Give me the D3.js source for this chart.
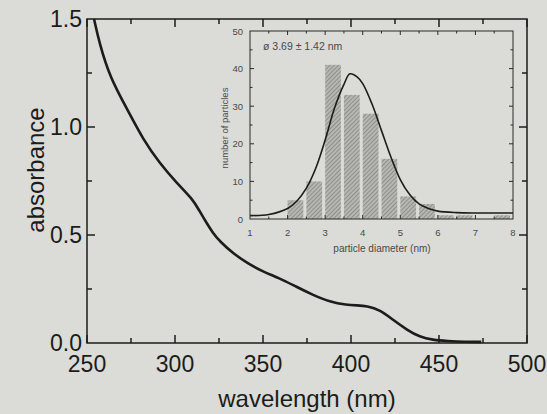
<!DOCTYPE html>
<html>
<head>
<meta charset="utf-8">
<script src="https://cdn.jsdelivr.net/npm/d3@7"></script>
<style>
  body { margin: 0; background: #dbdbd7; }
  svg { display: block; }
  text { font-family: "Liberation Sans", Arial, sans-serif; }
</style>
</head>
<body>
<svg width="547" height="414"></svg>
<script>
// absorption spectrum
var wavelength = [254, 257, 263, 273, 282, 291.5, 300.5, 310, 314, 318, 321.5, 325.5, 333, 341, 350, 359.5, 369, 378.5, 388, 397.5, 403.5, 409, 416.5, 424, 432, 439, 446.5, 454.5, 465, 474];
var absorbance = [1.50, 1.39, 1.23, 1.08, 0.94, 0.83, 0.745, 0.667, 0.61, 0.555, 0.51, 0.47, 0.415, 0.37, 0.33, 0.30, 0.26, 0.222, 0.19, 0.176, 0.174, 0.172, 0.153, 0.106, 0.06, 0.028, 0.014, 0.009, 0.005, 0.005];

// inset histogram (bin start in nm, count)
var binStart = [2, 2.5, 3, 3.5, 4, 4.5, 5, 5.5, 6, 6.5, 7, 7.5];
var binCount = [5, 10, 41, 33, 28, 16, 6, 4, 1, 1, 0, 1];

// fitted curve in the inset
var fitD = [1.0, 1.5, 2.0, 2.25, 2.5, 2.75, 3.0, 3.25, 3.5, 3.66, 3.85, 4.0, 4.25, 4.5, 4.75, 5.0, 5.25, 5.5, 5.75, 6.0, 6.5, 7.0, 7.5, 8.0];
var fitN = [0.9, 1.2, 2.8, 4.8, 8.2, 13.5, 21, 29.5, 35.8, 38.6, 37.8, 36, 30.5, 23.5, 16.5, 10.5, 6.5, 4.0, 2.8, 2.1, 1.7, 1.6, 1.6, 1.6];

var xTicks = [250, 300, 350, 400, 450, 500];
var yTicks = [0, 0.5, 1.0, 1.5];
var ixTicks = [1, 2, 3, 4, 5, 6, 7, 8];
var iyTicks = [0, 10, 20, 30, 40, 50];

var svg = d3.select("svg");
var ink = "#1c1c1c";

svg.append("rect").attr("width", 547).attr("height", 414).attr("fill", "#dbdbd7");

var defs = svg.append("defs");
var pat = defs.append("pattern")
    .attr("id", "hatch")
    .attr("patternUnits", "userSpaceOnUse")
    .attr("width", 3).attr("height", 3)
    .attr("patternTransform", "rotate(45)");
pat.append("rect").attr("width", 3).attr("height", 3).attr("fill", "#b6b6b2");
pat.append("line").attr("x1", 0).attr("y1", 0).attr("x2", 0).attr("y2", 3)
    .attr("stroke", "#747471").attr("stroke-width", 1.2);

// ---- main plot ----
var x = d3.scaleLinear().domain([250, 500]).range([87, 527]);
var y = d3.scaleLinear().domain([0, 1.5]).range([343, 19]);

function ticksInward(g, scale, vals, orient, len) {
    vals.forEach(function (v) {
        var p = scale(v);
        if (orient == "bottom") g.append("line").attr("x1", p).attr("x2", p).attr("y1", y(0)).attr("y2", y(0) - len);
        if (orient == "top") g.append("line").attr("x1", p).attr("x2", p).attr("y1", y(1.5)).attr("y2", y(1.5) + len);
        if (orient == "left") g.append("line").attr("y1", p).attr("y2", p).attr("x1", x(250)).attr("x2", x(250) + len);
        if (orient == "right") g.append("line").attr("y1", p).attr("y2", p).attr("x1", x(500)).attr("x2", x(500) - len);
    });
}

var main = svg.append("g").attr("stroke", ink).attr("stroke-width", 1.5);
main.append("rect")
    .attr("x", x(250)).attr("y", y(1.5))
    .attr("width", x(500) - x(250)).attr("height", y(0) - y(1.5))
    .attr("fill", "none");

var xMajor = d3.range(250, 501, 50), xMinor = d3.range(275, 500, 50);
var yMajor = [0.5, 1.0], yMinor = [0.25, 0.75, 1.25];
ticksInward(main, x, xMajor, "bottom", 8);
ticksInward(main, x, xMinor, "bottom", 5);
ticksInward(main, x, xMajor, "top", 8);
ticksInward(main, x, xMinor, "top", 5);
ticksInward(main, y, yMajor, "left", 8);
ticksInward(main, y, yMinor, "left", 5);
ticksInward(main, y, yMajor, "right", 8);
ticksInward(main, y, yMinor, "right", 5);

var line = d3.line()
    .x(function (d, i) { return x(wavelength[i]); })
    .y(function (d, i) { return y(absorbance[i]); })
    .curve(d3.curveBasis);

svg.append("path")
    .datum(wavelength)
    .attr("d", line)
    .attr("fill", "none")
    .attr("stroke", ink)
    .attr("stroke-width", 2.6);

svg.selectAll(".xl").data(xTicks).enter().append("text")
    .attr("x", function (d) { return x(d); })
    .attr("y", 372)
    .attr("text-anchor", "middle")
    .attr("font-size", 23)
    .attr("fill", ink)
    .text(function (d) { return d; });

svg.selectAll(".yl").data(yTicks).enter().append("text")
    .attr("x", 82)
    .attr("y", function (d) { return y(d) + 8; })
    .attr("text-anchor", "end")
    .attr("font-size", 23)
    .attr("fill", ink)
    .text(function (d) { return d.toFixed(1); });

svg.append("text")
    .attr("transform", "translate(44,170) rotate(-90)")
    .attr("text-anchor", "middle")
    .attr("font-size", 24)
    .attr("fill", ink)
    .text("absorbance");

svg.append("text")
    .attr("x", 307).attr("y", 407)
    .attr("text-anchor", "middle")
    .attr("font-size", 24)
    .attr("fill", ink)
    .text("wavelength (nm)");

// ---- inset ----
var xi = d3.scaleLinear().domain([1, 8]).range([250, 513]);
var yi = d3.scaleLinear().domain([0, 50]).range([219, 31]);
var grey = "#4a4a48";

var inset = svg.append("g");

inset.selectAll(".bar").data(binStart).enter().append("rect")
    .attr("class", "bar")
    .attr("x", function (d) { return xi(d); })
    .attr("y", function (d, i) { return yi(binCount[i]); })
    .attr("width", xi(1.42) - xi(1))
    .attr("height", function (d, i) { return yi(0) - yi(binCount[i]); })
    .attr("fill", "url(#hatch)");

inset.append("path")
    .datum(fitD)
    .attr("d", d3.line()
        .x(function (d) { return xi(d); })
        .y(function (d, i) { return yi(fitN[i]); })
        .curve(d3.curveCatmullRom))
    .attr("fill", "none")
    .attr("stroke", ink)
    .attr("stroke-width", 1.6);

var ig = inset.append("g").attr("stroke", "#2a2a28").attr("stroke-width", 1);
ig.append("rect")
    .attr("x", xi(1)).attr("y", yi(50))
    .attr("width", xi(8) - xi(1)).attr("height", yi(0) - yi(50))
    .attr("fill", "none");

d3.range(1.5, 8, 0.5).forEach(function (v) {
    var p = xi(v), len = (v % 1 == 0) ? 4 : 2.5;
    ig.append("line").attr("x1", p).attr("x2", p).attr("y1", yi(50)).attr("y2", yi(50) + len);
    ig.append("line").attr("x1", p).attr("x2", p).attr("y1", yi(0)).attr("y2", yi(0) - len);
});
d3.range(5, 50, 5).forEach(function (v) {
    var p = yi(v), len = (v % 10 == 0) ? 4 : 2.5;
    ig.append("line").attr("y1", p).attr("y2", p).attr("x1", xi(1)).attr("x2", xi(1) + len);
    ig.append("line").attr("y1", p).attr("y2", p).attr("x1", xi(8)).attr("x2", xi(8) - len);
});

inset.selectAll(".ixl").data(ixTicks).enter().append("text")
    .attr("x", function (d) { return xi(d); })
    .attr("y", 236)
    .attr("text-anchor", "middle")
    .attr("font-size", 9.5)
    .attr("fill", grey)
    .text(function (d) { return d; });

inset.selectAll(".iyl").data(iyTicks).enter().append("text")
    .attr("x", 243)
    .attr("y", function (d) { return yi(d) + 3.5; })
    .attr("text-anchor", "end")
    .attr("font-size", 9.5)
    .attr("fill", grey)
    .text(function (d) { return d; });

inset.append("text")
    .attr("x", 382).attr("y", 252)
    .attr("text-anchor", "middle")
    .attr("font-size", 10)
    .attr("fill", grey)
    .text("particle diameter (nm)");

inset.append("text")
    .attr("transform", "translate(228,128) rotate(-90)")
    .attr("text-anchor", "middle")
    .attr("font-size", 9.5)
    .attr("fill", grey)
    .text("number of particles");

inset.append("text")
    .attr("x", 263).attr("y", 50)
    .attr("font-size", 10.5)
    .attr("fill", grey)
    .text("ø 3.69 ± 1.42 nm");
</script>
</body>
</html>
